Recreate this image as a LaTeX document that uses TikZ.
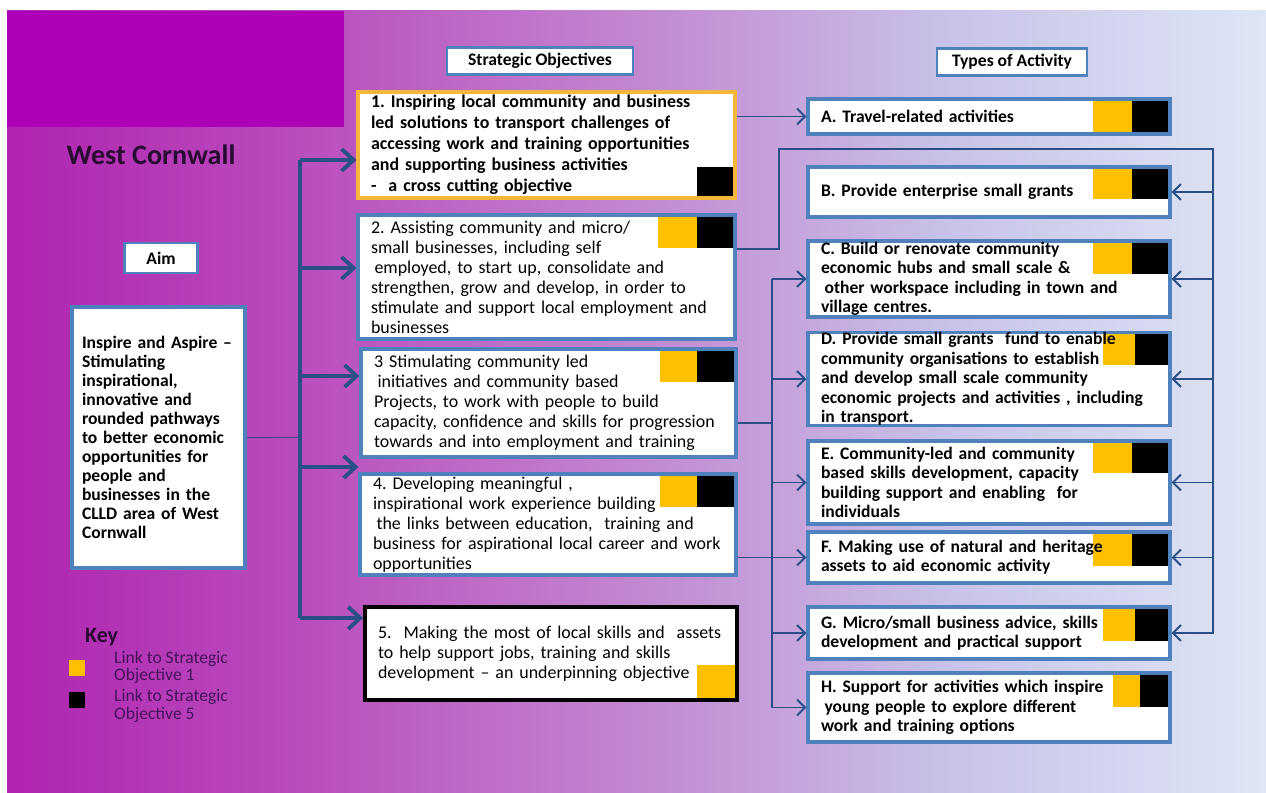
\documentclass[tikz,border=0pt]{standalone}
\usepackage{fontspec}
\setmainfont{Carlito}
\frenchspacing
\usetikzlibrary{arrows.meta}

\definecolor{boxblue}{RGB}{79,129,189}
\definecolor{linkblue}{RGB}{42,78,135}
\definecolor{keyyellow}{RGB}{255,192,0}
\definecolor{objonerim}{RGB}{245,182,60}
\definecolor{slidetop}{RGB}{174,0,182}
\definecolor{titleink}{RGB}{40,10,50}
\definecolor{keyink}{RGB}{70,18,92}
\definecolor{bgA}{RGB}{176,36,176}
\definecolor{bgB}{RGB}{186,80,190}
\definecolor{bgC}{RGB}{194,135,208}
\definecolor{bgD}{RGB}{200,195,232}
\definecolor{bgE}{RGB}{222,230,245}
\pgfdeclarehorizontalshading{slidebg}{100bp}{color(0bp)=(bgA); color(25bp)=(bgA); color(37.5bp)=(bgB); color(50bp)=(bgC); color(62.5bp)=(bgD); color(75bp)=(bgE); color(100bp)=(bgE)}

\begin{document}
\begin{tikzpicture}[x=0.02cm,y=-0.02cm]
  \tikzset{
    head/.style={draw=boxblue,line width=1.6pt,fill=white,minimum height=0.54cm,font=\bfseries\fontsize{10}{12}\selectfont},
    objbox/.style={draw=boxblue,line width=1.8pt,fill=white,align=left,inner xsep=0.26cm,inner ysep=0pt,font=\fontsize{10.2}{11.4}\selectfont},
    actbox/.style={draw=boxblue,line width=1.8pt,fill=white,align=left,inner xsep=0.26cm,inner ysep=0pt,text width=6.72cm,minimum width=7.24cm,font=\bfseries\fontsize{10}{11.05}\selectfont},
    tags/.style n args={3}{path picture={
      \fill[keyyellow] (path picture bounding box.north east) ++(-#1-#2,0) rectangle ++(#1,#3);
      \fill[black] (path picture bounding box.north east) ++(-#2,0) rectangle ++(#2,#3);}},
    bigarrow/.style={linkblue,line width=2.2pt,-{Straight Barb[length=2.4mm,width=4.4mm]}},
    thinarrow/.style={linkblue,line width=1.1pt,-{Straight Barb[length=1.6mm,width=3.2mm]}},
    thinlink/.style={linkblue,line width=1.1pt}
  }
\useasboundingbox (0,0) rectangle (1266,793);
\shade[shading=slidebg,shading angle=0] (7,11) rectangle (1266,793);
\fill[slidetop] (7,11) rectangle (344,127);

\node[font=\bfseries\fontsize{16}{19}\selectfont,text=titleink] (title) at (151,155) {West Cornwall};
\node[head,minimum width=3.72cm] (so) at (540,61) {Strategic Objectives};
\node[head,minimum width=3cm] (ta) at (1012,62) {Types of Activity};
\node[head,minimum width=1.46cm,minimum height=0.6cm] (aimhead) at (161,258) {Aim};

\node[objbox,font=\bfseries\fontsize{10}{10.77}\selectfont,inner xsep=0.2cm,text width=3.06cm,minimum height=5.22cm] (aim) at (158.5,437.5)
  {Inspire and Aspire --\\Stimulating\\inspirational,\\innovative and\\rounded pathways\\to better economic\\opportunities for\\people and\\businesses in the\\CLLD area of West\\Cornwall};

\node[objbox,draw=objonerim,font=\bfseries\fontsize{10.2}{11.9}\selectfont,text width=7.02cm,minimum height=2.12cm,
  path picture={\fill[black] (path picture bounding box.south east) rectangle ++(-38,-31);}] (o1) at (546.5,145)
  {1. Inspiring local community and business\\led solutions to transport challenges of\\accessing work and training opportunities\\and supporting business activities\\-\ \ a cross cutting objective};
\node[objbox,text width=7.02cm,minimum height=2.48cm,tags={39}{38}{33}] (o2) at (546.5,277)
  {2. Assisting community and micro/\\small businesses, including self\\\hspace*{2pt}employed, to start up, consolidate and\\strengthen, grow and develop, in order to\\stimulate and support local employment and\\businesses};
\node[objbox,text width=6.98cm,minimum height=2.16cm,tags={37}{39}{33}] (o3) at (548.5,403)
  {3 Stimulating community led\\\hspace*{2pt}initiatives and community based\\Projects, to work with people to build\\capacity, confidence and skills for progression\\towards and into employment and training};
\node[objbox,text width=7cm,minimum height=2.02cm,tags={37}{39}{33}] (o4) at (548,524.5)
  {4. Developing meaningful ,\\inspirational work experience building\\\hspace*{2pt}the links between education,\ \ training and\\business for aspirational local career and work\\opportunities};
\node[objbox,draw=black,line width=2.2pt,text width=6.92cm,minimum height=1.86cm,
  path picture={\fill[keyyellow] (path picture bounding box.south east) rectangle ++(-40,-35);}] (o5) at (551,653.5)
  {5.\ \ Making the most of local skills and\ \ assets\\to help support jobs, training and skills\\development -- an underpinning objective};

\node[actbox,minimum height=0.7cm,tags={39}{38}{35}] (a) at (989,116.5) {A. Travel-related activities};
\node[actbox,minimum height=1cm,tags={39}{38}{32}] (b) at (989,192) {B. Provide enterprise small grants};
\node[actbox,minimum height=1.52cm,tags={39}{38}{33}] (c) at (989,279)
  {C. Build or renovate community\\economic hubs and small scale \&\\\hspace*{2pt}other workspace including in town and\\village centres.};
\node[actbox,minimum height=1.84cm,tags={32}{35}{32}] (d) at (989,379)
  {D. Provide small grants\ \ fund to enable\\community organisations to establish\\and develop small scale community\\economic projects and activities , including\\in transport.};
\node[actbox,minimum height=1.66cm,tags={39}{38}{32}] (e) at (989,482.5)
  {E. Community-led and community\\based skills development, capacity\\building support and enabling\ \ for\\individuals};
\node[actbox,minimum height=1.02cm,tags={39}{38}{34}] (f) at (989,557.5)
  {F. Making use of natural and heritage\\assets to aid economic activity};
\node[actbox,minimum height=1.04cm,tags={32}{35}{34}] (g) at (989,633)
  {G. Micro/small business advice, skills\\development and practical support};
\node[actbox,minimum height=1.38cm,tags={27}{30}{34}] (h) at (989,707.5)
  {H. Support for activities which inspire\\\hspace*{2pt}young people to explore different\\work and training options};

\node[font=\bfseries\fontsize{12.5}{14}\selectfont,text=titleink,anchor=west] (key) at (79,637) {Key};
\node[fill=keyyellow,minimum size=0.32cm,inner sep=0pt] (k1) at (77,668) {};
\node[fill=black,minimum size=0.32cm,inner sep=0pt] (k5) at (77,700) {};
\node[anchor=west,align=left,text=keyink,font=\fontsize{10}{9.8}\selectfont] (k1text) at (108,667.5) {Link to Strategic\\Objective 1};
\node[anchor=west,align=left,text=keyink,font=\fontsize{10}{9.8}\selectfont] (k5text) at (108,706) {Link to Strategic\\Objective 5};

% aim to objectives
\foreach \o/\y in {o1/160,o2/268,o3/376,o4/467,o5/618}
  \coordinate (j\o) at (300,\y);
\draw[thinlink] (aim.east) -- (aim.east -| jo1);
\draw[linkblue,line width=2.2pt] (jo1) -- (jo5);
\foreach \o in {o1,o2,o3,o4,o5}
  \draw[bigarrow] (j\o) -- (j\o -| \o.west);

% objectives to activities
\coordinate (rt) at (1213,149);
\coordinate (mt) at (772,279);
\draw[thinarrow] (a.west -| o1.east) -- (a.west);
\draw[thinarrow] ([yshift=0.56cm]o2.east) -- ++(42,0) |- (rt) |- (g.east);
\foreach \n in {b,c,d,e,f}
  \draw[thinarrow] (\n.east -| rt) -- (\n.east);
\draw[thinlink] ([yshift=-0.4cm]o3.east) -- ([yshift=-0.4cm]o3.east -| mt);
\draw[thinarrow] (mt) |- (h.west);
\foreach \n in {c,d,e,g}
  \draw[thinarrow] (\n.west -| mt) -- (\n.west);
\draw[thinarrow] (f.west -| o4.east) -- (f.west);
\end{tikzpicture}
\end{document}
